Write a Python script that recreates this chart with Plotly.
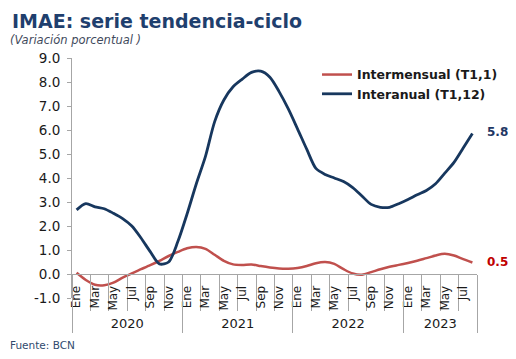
import plotly.graph_objects as go

# ---- data ----
years = ["2020", "2021", "2022", "2023"]
months_per_year = [12, 12, 12, 8]
month_names = ["Ene", "Feb", "Mar", "Abr", "May", "Jun", "Jul", "Ago", "Sep", "Oct", "Nov", "Dic"]

intermensual = [0.05, -0.25, -0.45, -0.47, -0.36, -0.15, 0.03, 0.20, 0.37, 0.55, 0.75, 0.92,
                1.07, 1.13, 1.05, 0.80, 0.55, 0.40, 0.38, 0.40, 0.33, 0.27, 0.23, 0.22,
                0.25, 0.33, 0.45, 0.50, 0.42, 0.20, 0.02, -0.03, 0.08, 0.20, 0.30, 0.38,
                0.46, 0.55, 0.66, 0.77, 0.84, 0.77, 0.62, 0.48]
interanual = [2.67, 2.93, 2.80, 2.72, 2.53, 2.31, 2.00, 1.50, 0.93, 0.42, 0.50, 1.35,
              2.50, 3.75, 4.90, 6.35, 7.25, 7.80, 8.12, 8.40, 8.45, 8.20, 7.60, 6.88,
              6.05, 5.20, 4.40, 4.15, 4.00, 3.85, 3.60, 3.25, 2.90, 2.78, 2.78, 2.93,
              3.10, 3.30, 3.48, 3.76, 4.20, 4.65, 5.25, 5.85]
y_ticks = [-1, 0, 1, 2, 3, 4, 5, 6, 7, 8, 9]

# ---- derived ----
month_labels = []
for n in months_per_year:
    month_labels += month_names[:n]
idx = list(range(len(month_labels)))
n_total = len(idx)

year_bounds = [-0.5]
for n in months_per_year:
    year_bounds.append(year_bounds[-1] + n)
year_centers = [(year_bounds[i] + year_bounds[i + 1]) / 2 for i in range(len(years))]

FONT = "DejaVu Sans"
NAVY = "#17375E"
RED = "#C0504D"
GRAY = "#A6A6A6"
TXT = "#1a1a1a"

# page has an 8px body margin; figure is sized/positioned to compensate
W, H = 500, 343
ML, MT, MR, MB = 64, 50, 31, 53
PW, PH = W - ML - MR, H - MT - MB

fig = go.Figure()
fig.add_trace(go.Scatter(x=idx, y=intermensual, mode="lines", name="Intermensual (T1,1)",
                         line=dict(color=RED, width=2.5, shape="spline", smoothing=0.8)))
fig.add_trace(go.Scatter(x=idx, y=interanual, mode="lines", name="Interanual (T1,12)",
                         line=dict(color=NAVY, width=2.8, shape="spline", smoothing=0.8)))
# invisible helper trace on the year axis
fig.add_trace(go.Scatter(x=idx, y=interanual, xaxis="x2", mode="lines", showlegend=False,
                         hoverinfo="skip", line=dict(width=0), opacity=0))

zero_pos = (0 - y_ticks[0]) / (y_ticks[-1] - y_ticks[0])

fig.update_layout(
    width=W, height=H,
    margin=dict(l=ML, r=MR, t=MT, b=MB, autoexpand=False),
    paper_bgcolor="white", plot_bgcolor="white",
    font=dict(family=FONT, color=TXT),
    showlegend=True,
    legend=dict(x=0.605, y=0.992, xanchor="left", yanchor="top",
                font=dict(family=FONT, size=12.5, color=TXT, weight="bold"),
                bgcolor="rgba(0,0,0,0)", tracegroupgap=0),
    title=dict(text="<b>IMAE: serie tendencia-ciclo</b>", x=4 / W, xanchor="left",
               xref="container", yref="container", y=1 - 13 / H, yanchor="middle",
               font=dict(family=FONT, size=19, color="#1F3F6E")),
    xaxis=dict(range=[-0.5, n_total - 0.5], anchor="free", position=zero_pos, automargin=False,
               showline=True, linecolor=GRAY, linewidth=1, showgrid=False, zeroline=False,
               tickmode="array", tickvals=idx[::2], ticktext=month_labels[::2],
               tickangle=-90, ticks="", ticklabelstandoff=6,
               tickfont=dict(family=FONT, size=12, color=TXT),
               minor=dict(tickmode="array", tickvals=[i - 0.5 for i in range(0, n_total + 1, 2)],
                          ticks="outside", ticklen=36, tickcolor=GRAY, tickwidth=1)),
    xaxis2=dict(range=[-0.5, n_total - 0.5], overlaying="x", anchor="free", position=zero_pos,
                automargin=False,
                side="bottom", showline=False, showgrid=False, zeroline=False,
                tickmode="array", tickvals=year_centers, ticktext=years, ticks="",
                ticklabelstandoff=40,
                tickfont=dict(family=FONT, size=13, color=TXT),
                minor=dict(tickmode="array", tickvals=year_bounds, ticks="outside",
                           ticklen=58, tickcolor=GRAY, tickwidth=1)),
    yaxis=dict(range=[y_ticks[0], y_ticks[-1]], tickmode="array", tickvals=y_ticks,
               automargin=False,
               ticktext=[f"{v:.1f}" for v in y_ticks], showline=True, linecolor=GRAY,
               linewidth=1, ticks="outside", ticklen=4, tickcolor=GRAY, showgrid=False,
               zeroline=False, ticklabelstandoff=4,
               tickfont=dict(family=FONT, size=13.5, color=TXT)),
)

fig.add_annotation(x=idx[-1], y=interanual[-1], text=f"<b>{interanual[-1]:.1f}</b>",
                   showarrow=False, xanchor="left", xshift=13, yshift=2,
                   font=dict(family=FONT, size=12, color="#1F3864"))
fig.add_annotation(x=idx[-1], y=intermensual[-1], text=f"<b>{intermensual[-1]:.1f}</b>",
                   showarrow=False, xanchor="left", xshift=13, yshift=0,
                   font=dict(family=FONT, size=12, color="#C00000"))
fig.add_annotation(xref="paper", yref="paper", x=(0 - ML) / PW, y=1 + (MT - 32) / PH,
                   text="<i>(Variación porcentual )</i>", showarrow=False, xanchor="left",
                   yanchor="middle", font=dict(family=FONT, size=11.5, color="#3F4A5C"))
fig.add_annotation(xref="paper", yref="paper", x=(0 - ML) / PW, y=(PH - (337 - MT)) / PH,
                   text="Fuente: BCN", showarrow=False, xanchor="left", yanchor="middle",
                   font=dict(family=FONT, size=10.5, color="#2F4A6E"))

fig.write_html("out.html")
